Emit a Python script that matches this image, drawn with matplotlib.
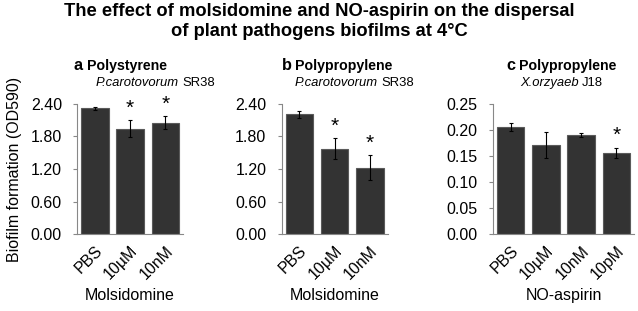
import numpy as np
import matplotlib.pyplot as plt

plt.rcParams['font.family'] = ['Liberation Sans', 'DejaVu Sans']

# panel a: polystyrene, P.carotovorum SR38, molsidomine
a_labels = ["PBS", "10µM", "10nM"]
a_vals = [2.31, 1.94, 2.05]
a_err = [0.03, 0.15, 0.12]
a_star = [False, True, True]

# panel b: polypropylene, P.carotovorum SR38, molsidomine
b_labels = ["PBS", "10µM", "10nM"]
b_vals = [2.20, 1.57, 1.22]
b_err = [0.07, 0.19, 0.23]
b_star = [False, True, True]

# panel c: polypropylene, X.orzyaeb J18, NO-aspirin
c_labels = ["PBS", "10µM", "10nM", "10pM"]
c_vals = [0.2055, 0.171, 0.190, 0.156]
c_err = [0.007, 0.025, 0.004, 0.0095]
c_star = [False, False, False, True]

W, H = 638, 311
fig = plt.figure(figsize=(W / 100, H / 100), dpi=100)
fig.text(0.5, 1 - 3 / H, "The effect of molsidomine and NO-aspirin on the dispersal\nof plant pathogens biofilms at 4°C",
         ha="center", va="top", fontsize=13.2, fontweight="bold", linespacing=1.2)

bottom, height = 0.246, 0.421
renderer = fig.canvas.get_renderer()


def px(x, y):
    # pixel position (from top left) -> figure fraction
    return x / W, 1 - y / H


def panel(left, width, labels, vals, err, star, ymax, yticks, xlabel):
    ax = fig.add_axes([left, bottom, width, height])
    x = np.arange(len(vals))
    ax.bar(x, vals, width=0.78, color="#333333", edgecolor="#5a5a5a", linewidth=0.8)
    ax.errorbar(x, vals, yerr=err, fmt="none", ecolor="black", elinewidth=0.8, capsize=1.2, capthick=0.8)
    for i in range(len(vals)):
        if star[i]:
            ax.text(x[i], vals[i] + err[i] + ymax * 0.02, "*", ha="center", va="bottom", fontsize=15)
    ax.set_xlim(-0.5, len(vals) - 0.5)
    ax.set_ylim(0, ymax)
    ax.set_yticks(yticks)
    ax.set_yticklabels(["%.2f" % v for v in yticks])
    ax.set_xticks(x)
    ax.set_xticklabels(labels, rotation=45, ha="right", rotation_mode="anchor")
    ax.tick_params(axis="y", length=3, width=0.8, color="#888888", pad=8, labelsize=11.5)
    ax.tick_params(axis="x", length=0, pad=6, labelsize=11.5)
    for s in ["top", "right"]:
        ax.spines[s].set_visible(False)
    for s in ["left", "bottom"]:
        ax.spines[s].set_color("#888888")
        ax.spines[s].set_linewidth(0.8)
    ax.set_xlabel(xlabel, fontsize=11.5, labelpad=4)
    return ax


def heading(letter, surface, species, strain, lx, sx, spx):
    fig.text(*px(lx, 70), letter, fontsize=11.7, fontweight="bold", ha="left", va="baseline")
    fig.text(*px(sx, 70), surface, fontsize=10.2, fontweight="bold", ha="left", va="baseline")
    t = fig.text(*px(spx, 86), species, fontsize=9.4, style="italic", ha="left", va="baseline")
    x1 = t.get_window_extent(renderer).x1
    fig.text((x1 + 3) / W, 1 - 86 / H, strain, fontsize=9.4, ha="left", va="baseline")


ax1 = panel(0.121, 0.166, a_labels, a_vals, a_err, a_star, 2.4, [0, 0.6, 1.2, 1.8, 2.4], "Molsidomine")
ax1.set_ylabel("Biofilm formation (OD590)", fontsize=11.5, labelpad=6)
heading("a", "Polystyrene", "P.carotovorum", "SR38", 73, 87, 96)

ax2 = panel(0.4415, 0.166, b_labels, b_vals, b_err, b_star, 2.4, [0, 0.6, 1.2, 1.8, 2.4], "Molsidomine")
heading("b", "Polypropylene", "P.carotovorum", "SR38", 282, 295, 295)

ax3 = panel(0.7727, 0.221, c_labels, c_vals, c_err, c_star, 0.25, [0, 0.05, 0.1, 0.15, 0.2, 0.25], "NO-aspirin")
heading("c", "Polypropylene", "X.orzyaeb", "J18", 506, 519, 520)

plt.savefig("out.png", dpi=100)
